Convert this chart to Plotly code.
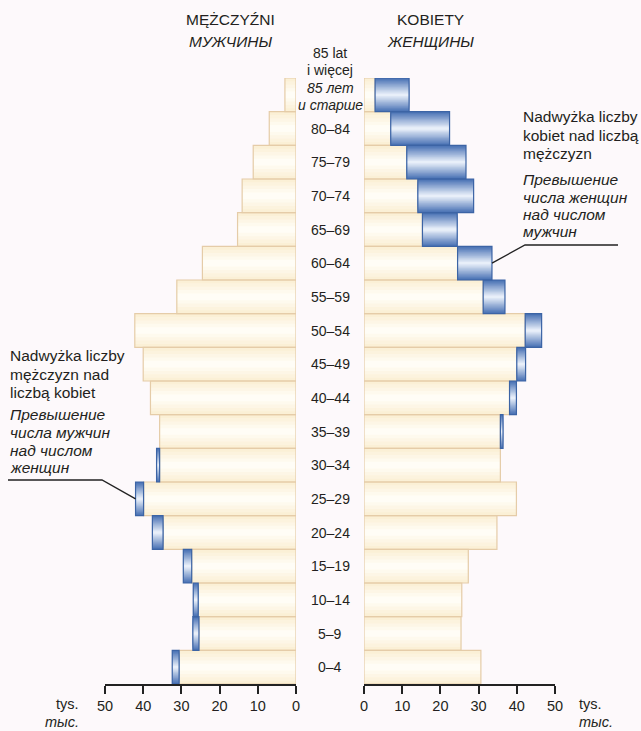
import plotly.graph_objects as go

# ---------------- data ----------------
age_groups = ["0–4", "5–9", "10–14", "15–19", "20–24", "25–29", "30–34", "35–39",
              "40–44", "45–49", "50–54", "55–59", "60–64", "65–69", "70–74",
              "75–79", "80–84", "85+"]
men = [32.4, 27.0, 26.9, 29.5, 37.6, 42.0, 36.5, 35.7, 38.1, 40.0, 42.2, 31.2,
       24.5, 15.3, 14.1, 11.2, 7.0, 2.9]
women = [30.6, 25.4, 25.6, 27.3, 34.8, 39.9, 35.7, 36.4, 39.9, 42.3, 46.5, 36.9,
         33.5, 24.4, 28.7, 26.7, 22.4, 11.8]
top_label_lines = ["85 lat", "i więcej", "<i>85 лет</i>", "<i>и старше</i>"]
tick_values = [0, 10, 20, 30, 40, 50]
title_men = ["MĘŻCZYŹNI", "<i>МУЖЧИНЫ</i>"]
title_women = ["KOBIETY", "<i>ЖЕНЩИНЫ</i>"]
note_women = ["Nadwyżka liczby", "kobiet nad liczbą", "mężczyzn",
              "<i>Превышение</i>", "<i>числа женщин</i>", "<i>над числом</i>", "<i>мужчин</i>"]
note_men = ["Nadwyżka liczby", "mężczyzn nad", "liczbą kobiet",
            "<i>Превышение</i>", "<i>числа мужчин</i>", "<i>над числом</i>", "<i>женщин</i>"]
unit_lines = ["tys.", "<i>тыс.</i>"]

# ---------------- layout constants ----------------
W, H = 641, 731
FONT = "Liberation Sans, Arial, sans-serif"
TXT = "#231f20"
BG = "#fdf9fb"
L0, L50 = 296, 105          # left axis pixels (0, 50)
R0, R50 = 364, 555          # right axis pixels
TOP, BOT = 78, 684          # plot area vertical pixels
N = len(age_groups)


def px(x):
    return x / W


def py(y):
    return 1 - y / H


def hexmix(c1, c2, t):
    a = [int(c1[i:i + 2], 16) for i in (1, 3, 5)]
    b = [int(c2[i:i + 2], 16) for i in (1, 3, 5)]
    return "#" + "".join(f"{round(a[k] + (b[k] - a[k]) * t):02x}" for k in range(3))


ys = list(range(N))
common_min = [min(m, f) for m, f in zip(men, women)]
men_excess = [m - f if m > f else None for m, f in zip(men, women)]
women_excess = [f - m if f > m else None for m, f in zip(men, women)]

fig = go.Figure()


def gradient_bars(xvals, base, axis, edge, center, line_color, steps):
    for k in range(steps):
        w = 1 - k / steps
        col = hexmix(edge, center, k / (steps - 1))
        fig.add_trace(go.Bar(y=ys, x=xvals, base=base, orientation="h", width=w,
                             marker=dict(color=col, line=dict(width=0)),
                             xaxis=axis, yaxis="y", showlegend=False, hoverinfo="skip"))
    fig.add_trace(go.Bar(y=ys, x=xvals, base=base, orientation="h", width=1,
                         marker=dict(color="rgba(0,0,0,0)", line=dict(width=1.2, color=line_color)),
                         xaxis=axis, yaxis="y", showlegend=False, hoverinfo="skip"))


BEIGE_EDGE, BEIGE_CENTER, BEIGE_LINE = "#fbf0d6", "#fffdf6", "#e5cca8"
BLUE_EDGE, BLUE_CENTER, BLUE_LINE = "#4a72b5", "#e8eff9", "#3c64a5"

for axis, excess, base in (("x", men_excess, women), ("x2", women_excess, men)):
    gradient_bars(common_min, None, axis, BEIGE_EDGE, BEIGE_CENTER, BEIGE_LINE, 5)
    gradient_bars(excess, base, axis, BLUE_EDGE, BLUE_CENTER, BLUE_LINE, 14)

axis_style = dict(showline=True, linecolor="#222", linewidth=1.5, ticks="outside",
                  ticklen=8, tickwidth=1.5, tickcolor="#222", tickvals=tick_values,
                  showgrid=False, zeroline=False, fixedrange=True,
                  tickfont=dict(family=FONT, size=14.5, color=TXT))

fig.update_layout(
    width=W, height=H, margin=dict(l=0, r=0, t=0, b=0, pad=0, autoexpand=False),
    paper_bgcolor=BG, plot_bgcolor="rgba(0,0,0,0)", barmode="overlay",
    xaxis=dict(domain=[px(L50), px(L0)], range=[50, 0], anchor="y", automargin=False, **axis_style),
    xaxis2=dict(domain=[px(R0), px(R50)], range=[0, 50], anchor="y", automargin=False, **axis_style),
    yaxis=dict(domain=[py(BOT), py(TOP)], range=[-0.5, N - 0.5], visible=False, fixedrange=True),
    font=dict(family=FONT, color=TXT),
)

ann = []


def text(x, y, s, size=15.5, anchor="center"):
    ann.append(dict(x=px(x), y=py(y), xref="paper", yref="paper", text=s, showarrow=False,
                    xanchor=anchor, yanchor="middle", font=dict(family=FONT, size=size, color=TXT)))


# headers
for i, s in enumerate(title_men):
    text(230, 20 + 22 * i, s, 15.5)
for i, s in enumerate(title_women):
    text(430, 20 + 22 * i, s, 15.5)

# age labels
row_h = (BOT - TOP) / N
LAB = 14
for i, lab in enumerate(age_groups[:-1]):
    ann.append(dict(x=px(330), y=i, xref="paper", yref="y", text=lab, showarrow=False,
                    xanchor="center", yanchor="middle", font=dict(family=FONT, size=LAB, color=TXT)))
for j, s in enumerate(top_label_lines):
    ann.append(dict(x=px(330), y=N - 1, xref="paper", yref="y", text=s, showarrow=False,
                    xanchor="center", yanchor="middle", yshift=42 - 17.4 * j,
                    font=dict(family=FONT, size=LAB, color=TXT)))

# notes
note_w_y = [117, 135, 153, 179, 197, 214, 231]
for s, y in zip(note_women, note_w_y):
    text(521, y, s, 15.5, "left")
note_m_y = [356, 374, 392, 414, 432, 450, 467]
for s, y in zip(note_men, note_m_y):
    text(8, y, s, 15.5, "left")

# units
text(81, 704, unit_lines[0], 14.5, "right")
text(81, 722, unit_lines[1], 14.5, "right")
text(577, 704, unit_lines[0], 14.5, "left")
text(577, 722, unit_lines[1], 14.5, "left")

fig.update_layout(annotations=ann)


# leader lines (endpoints computed from data values via the axis scale)
def row_y(i):
    return TOP + (N - 1 - i + 0.5) * row_h


iw = 12
xw = R0 + women[iw] * (R50 - R0) / 50
yw = row_y(iw)
im = 5
xm = L0 - men[im] * (L0 - L50) / 50
ym = row_y(im)
shapes = [
    dict(type="path", xref="paper", yref="paper",
         path=f"M {px(xw)} {py(yw)} L {px(525)} {py(245)} L {px(618)} {py(245)}",
         line=dict(color="#222", width=1.3)),
    dict(type="path", xref="paper", yref="paper",
         path=f"M {px(8)} {py(480)} L {px(102)} {py(480)} L {px(xm)} {py(ym)}",
         line=dict(color="#222", width=1.3)),
]
fig.update_layout(shapes=shapes)

fig.write_html("out.html", config={"displayModeBar": False},
               post_script="document.body.style.margin='0';document.body.style.overflow='hidden';")
